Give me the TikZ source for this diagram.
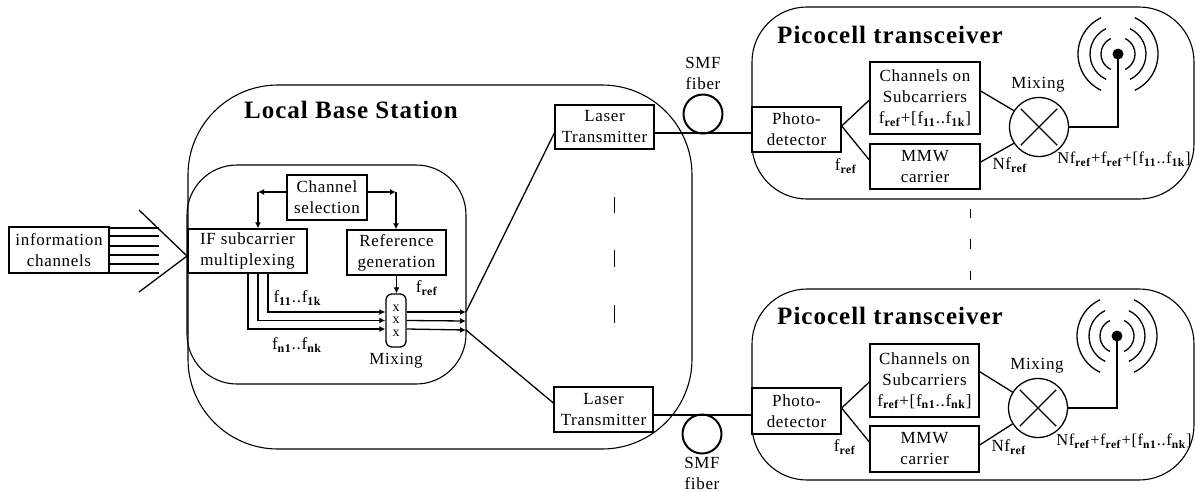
\documentclass[tikz,border=0pt]{standalone}
\usepackage{fontspec}
\setmainfont[LetterSpace=4]{Liberation Serif}
\usetikzlibrary{arrows.meta, shapes.misc}
\newcommand{\fsub}[1]{f\textsubscript{\textbf{#1}}}
\tikzset{
  every node/.style={font=\fontsize{17}{21}\selectfont},
  box/.style={rectangle,draw,line width=1.3pt,align=center,inner sep=0pt},
  cell/.style={rectangle,draw,line width=1.1pt,rounded corners=#1,inner sep=0pt},
  title/.style={font=\fontsize{25}{28}\selectfont\bfseries},
  sumlabel/.style={font=\fontsize{16.5}{20}\selectfont},
  mixnode/.style={circle,draw,line width=1.3pt,minimum size=59pt,inner sep=0pt},
  crossmark/.style={cross out,draw,line width=1.3pt,minimum size=35pt,inner sep=0pt},
  coil/.style={circle,draw,line width=2pt,minimum size=39pt,inner sep=0pt},
  antdot/.style={circle,fill=black,minimum size=11pt,inner sep=0pt},
  line/.style={-{Latex[length=6pt,width=6pt]},line width=1.3pt},
  link/.style={line width=1.3pt},
  fiber/.style={line width=2.8pt},
  feed/.style={line width=2pt},
  dashmark/.style={line width=0.9pt}
}

\begin{document}
\begin{tikzpicture}[x=1pt,y=-1pt]
\useasboundingbox (0,0) rectangle (1195,491);
\node[cell=90pt, minimum width=504pt, minimum height=364pt] (base) at (440,267) {};
\node[cell=50pt, minimum width=279pt, minimum height=219pt] (inner) at (326.5,274.5) {};
\node[cell=55pt, minimum width=442pt, minimum height=192pt] (cella) at (973,103) {};
\node[cell=55pt, minimum width=442pt, minimum height=191pt] (cellb) at (973,384.5) {};
\node[title] (basetitle) at (351,110) {Local Base Station};
\node[title] (titlea) at (890,35) {Picocell transceiver};
\node[title] (titleb) at (890,316) {Picocell transceiver};

\node[box, minimum width=100pt, minimum height=46pt] (info) at (59,250) {information\\channels};
\node[box, minimum width=80pt, minimum height=45pt] (chansel) at (327,197.5) {Channel\\selection};
\node[box, minimum width=119pt, minimum height=44pt] (ifmux) at (247.5,251) {IF subcarrier\\multiplexing};
\node[box, minimum width=99pt, minimum height=45pt] (refgen) at (396.5,252.5) {Reference\\generation};
\node[box, rounded corners=6pt, minimum width=20pt, minimum height=53pt, font=\fontsize{14}{12.5}\selectfont] (mixer) at (396,320.5) {x\\x\\x};
\node (mixlabel) at (396,361) {Mixing};
\node (lblone) at (297.5,298) {\fsub{11}..\fsub{1k}};
\node (lbln) at (297,345) {\fsub{n1}..\fsub{nk}};
\node (lblref) at (427,288) {\fsub{ref}};

\node[box, minimum width=99pt, minimum height=44pt] (lasa) at (604.5,127) {Laser\\Transmitter};
\node[box, minimum width=99pt, minimum height=45pt] (lasb) at (603.5,409.5) {Laser\\Transmitter};
\node[coil] (coila) at (703,114) {};
\node[coil] (coilb) at (702,434) {};
\node[align=center] (smfa) at (703,73.5) {SMF\\fiber};
\node[align=center] (smfb) at (702,473.5) {SMF\\fiber};

\node[box, minimum width=89pt, minimum height=45pt] (photoa) at (796.5,129.5) {Photo-\\detector};
\node[box, minimum width=110pt, minimum height=72pt] (chana) at (925,98) {Channels on\\Subcarriers\\\fsub{ref}+[\fsub{11}..\fsub{1k}]};
\node[box, minimum width=110pt, minimum height=45pt] (mmwa) at (925,166.5) {MMW\\carrier};
\node[mixnode] (mixa) at (1039,127) {};
\node[crossmark] (crossa) at (mixa) {};
\node (mixlabela) at (1038,85) {Mixing};
\node (frefa) at (846,166) {\fsub{ref}};
\node (nrefa) at (1010,165) {N\fsub{ref}};
\node[sumlabel] (suma) at (1124,159) {N\fsub{ref}+\fsub{ref}+[\fsub{11}..\fsub{1k}]};
\node[antdot] (dota) at (1118,54) {};

\node[box, minimum width=89pt, minimum height=46pt] (photob) at (796.5,411) {Photo-\\detector};
\node[box, minimum width=109pt, minimum height=73pt] (chanb) at (924.5,380.5) {Channels on\\Subcarriers\\\fsub{ref}+[\fsub{n1}..\fsub{nk}]};
\node[box, minimum width=109pt, minimum height=46pt] (mmwb) at (924.5,449) {MMW\\carrier};
\node[mixnode] (mixb) at (1038,408) {};
\node[crossmark] (crossb) at (mixb) {};
\node (mixlabelb) at (1037,366) {Mixing};
\node (frefb) at (845,447) {\fsub{ref}};
\node (nrefb) at (1009,447) {N\fsub{ref}};
\node[sumlabel] (sumb) at (1124,441) {N\fsub{ref}+\fsub{ref}+[\fsub{n1}..\fsub{nk}]};
\node[antdot] (dotb) at (1117,336) {};

\coordinate (wedgetop) at (139,210);
\coordinate (wedgetip) at (187,256);
\coordinate (wedgebot) at (139,292);
\coordinate (csl) at (258,192);
\coordinate (csr) at (396,192);
\coordinate (outa) at (466,312);
\coordinate (outb) at (466,321);
\coordinate (outc) at (466,330);
\coordinate (fibera) at (703,133);
\coordinate (fiberb) at (702,415);

\draw[link] (wedgetop) -- (wedgetip) -- (wedgebot);
\foreach \dy in {22,14,4,-5,-14,-23}
  \draw[link] ([yshift=\dy pt]info.east) -- ++(49,0);
\draw[line] ([yshift=5.5pt]chansel.west) -- (csl);
\draw[line] (csl) -- (csl |- ifmux.north);
\draw[line] ([yshift=5.5pt]chansel.east) -- (csr);
\draw[line] (csr) -- (csr |- refgen.north);
\draw[line] (refgen.south) -- (refgen.south |- mixer.north);
\foreach \dx/\dy in {20.5/8.5,10.5/0,0.5/-8.5}
  \draw[line] ([xshift=\dx pt]ifmux.south) |- ([yshift=\dy pt]mixer.west);
\foreach \dy/\out in {8.5/outa,0/outb,-8.5/outc}
  \draw[line] ([yshift=\dy pt]mixer.east) -- (\out);
\draw[link] (outa) -- ([yshift=-6pt]lasa.west);
\draw[link] (outc) -- ([yshift=6.5pt]lasb.west);
\draw[fiber] (lasa.east |- fibera) -- (photoa.west |- fibera);
\draw[fiber] (lasb.east |- fiberb) -- (photob.west |- fiberb);

\draw[link] ([yshift=3.5pt]photoa.east) -- ([yshift=-2pt]chana.west);
\draw[link] ([yshift=3.5pt]photoa.east) -- ([yshift=6.5pt]mmwa.west);
\draw[link] ([yshift=7pt]chana.east) -- (mixa.147);
\draw[link] ([yshift=4.5pt]mmwa.east) -- (mixa.213);
\draw[feed] (mixa.east) -| (dota.center);
\draw[link] ([yshift=3pt]photob.east) -- ([yshift=-1.5pt]chanb.west);
\draw[link] ([yshift=3pt]photob.east) -- ([yshift=7pt]mmwb.west);
\draw[link] ([yshift=8.8pt]chanb.east) -- (mixb.148);
\draw[link] ([yshift=4pt]mmwb.east) -- (mixb.212);
\draw[feed] (mixb.east) -| (dotb.center);

\foreach \dotname in {dota,dotb}
  \foreach \r in {17,28,40} {
    \draw[link] ([shift={(-65:\r pt)}]\dotname.center) arc[start angle=-65,end angle=65,radius=\r pt];
    \draw[link] ([shift={(115:\r pt)}]\dotname.center) arc[start angle=115,end angle=245,radius=\r pt];
  }

\foreach \ya/\yb in {197/213,250/267,305/323}
  \draw[dashmark] (614,\ya) -- (614,\yb);
\foreach \ya/\yb in {209/218,239/249,271/280}
  \draw[dashmark] (970,\ya) -- (970,\yb);
\end{tikzpicture}
\end{document}
